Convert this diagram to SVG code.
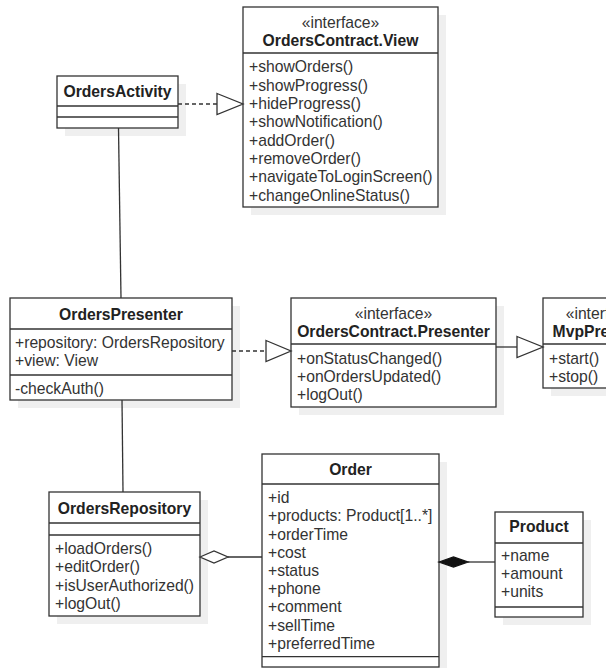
<svg xmlns="http://www.w3.org/2000/svg" width="606" height="668" viewBox="0 0 606 668">
<style>
.bg{fill:#ffffff}
.sh{fill:#efefef}
.box{fill:#ffffff;stroke:#333333;stroke-width:1.3}
.sep{stroke:#333333;stroke-width:1.3;fill:none}
.t{font-family:"Liberation Sans",Arial,Helvetica,sans-serif;font-size:15.7px;fill:#333333}
.b{font-weight:bold;fill:#222222}
.c{text-anchor:middle}
.ln{stroke:#333333;stroke-width:1.3;fill:none}
.dash{stroke-dasharray:4 3}
.open{fill:#ffffff;stroke:#333333;stroke-width:1.3}
.fill{fill:#111111;stroke:#111111;stroke-width:1.3}
</style>
<rect class="bg" x="0" y="0" width="606" height="668"/>

<g id="OrdersContractView">
  <rect class="sh" x="251" y="15" width="195" height="200"/>
  <rect class="box" x="243" y="7" width="195" height="200"/>
  <line class="sep" x1="243" y1="53" x2="438" y2="53"/>
  <text class="t c" x="340.5" y="28.2">«interface»</text>
  <text class="t b c" x="340.5" y="45.5">OrdersContract.View</text>
  <text class="t" x="249" y="72.2">+showOrders()</text>
  <text class="t" x="249" y="90.5">+showProgress()</text>
  <text class="t" x="249" y="108.9">+hideProgress()</text>
  <text class="t" x="249" y="127.2">+showNotification()</text>
  <text class="t" x="249" y="145.5">+addOrder()</text>
  <text class="t" x="249" y="163.8">+removeOrder()</text>
  <text class="t" x="249" y="182.2">+navigateToLoginScreen()</text>
  <text class="t" x="249" y="200.5">+changeOnlineStatus()</text>
</g>

<g id="OrdersActivity">
  <rect class="sh" x="65" y="84" width="121" height="52"/>
  <rect class="box" x="57" y="76" width="121" height="52"/>
  <line class="sep" x1="57" y1="106" x2="178" y2="106"/>
  <line class="sep" x1="57" y1="117" x2="178" y2="117"/>
  <text class="t b c" x="117.5" y="96.5">OrdersActivity</text>
</g>

<g id="OrdersPresenter">
  <rect class="sh" x="18" y="306" width="222" height="102"/>
  <rect class="box" x="10" y="298" width="222" height="102"/>
  <line class="sep" x1="10" y1="329" x2="232" y2="329"/>
  <line class="sep" x1="10" y1="375" x2="232" y2="375"/>
  <text class="t b c" x="121" y="319.5">OrdersPresenter</text>
  <text class="t" x="15" y="347.8">+repository: OrdersRepository</text>
  <text class="t" x="15" y="366.2">+view: View</text>
  <text class="t" x="15" y="393.8">-checkAuth()</text>
</g>

<g id="OrdersContractPresenter">
  <rect class="sh" x="299" y="306" width="205" height="109"/>
  <rect class="box" x="291" y="298" width="205" height="109"/>
  <line class="sep" x1="291" y1="344" x2="496" y2="344"/>
  <text class="t c" x="393.5" y="319.2">«interface»</text>
  <text class="t b c" x="393.5" y="336.5">OrdersContract.Presenter</text>
  <text class="t" x="297" y="363.5">+onStatusChanged()</text>
  <text class="t" x="297" y="381.8">+onOrdersUpdated()</text>
  <text class="t" x="297" y="400.1">+logOut()</text>
</g>

<g id="MvpPresenter">
  <rect class="sh" x="551" y="306" width="123" height="90"/>
  <rect class="box" x="543" y="298" width="123" height="90"/>
  <line class="sep" x1="543" y1="344" x2="666" y2="344"/>
  <text class="t c" x="604.5" y="319.2">«interface»</text>
  <text class="t b c" x="604.5" y="336.5">MvpPresenter</text>
  <text class="t" x="549" y="363.5">+start()</text>
  <text class="t" x="549" y="381.8">+stop()</text>
</g>

<g id="OrdersRepository">
  <rect class="sh" x="57" y="500" width="151" height="124"/>
  <rect class="box" x="49" y="492" width="151" height="124"/>
  <line class="sep" x1="49" y1="523" x2="200" y2="523"/>
  <line class="sep" x1="49" y1="535" x2="200" y2="535"/>
  <text class="t b c" x="124.5" y="513.8">OrdersRepository</text>
  <text class="t" x="55" y="553.8">+loadOrders()</text>
  <text class="t" x="55" y="572.2">+editOrder()</text>
  <text class="t" x="55" y="590.5">+isUserAuthorized()</text>
  <text class="t" x="55" y="608.8">+logOut()</text>
</g>

<g id="Order">
  <rect class="sh" x="270" y="462" width="177" height="213"/>
  <rect class="box" x="262" y="454" width="177" height="213"/>
  <line class="sep" x1="262" y1="484" x2="439" y2="484"/>
  <line class="sep" x1="262" y1="656.7" x2="439" y2="656.7"/>
  <text class="t b c" x="350.5" y="474.5">Order</text>
  <text class="t" x="268" y="503.2">+id</text>
  <text class="t" x="268" y="521.4">+products: Product[1..*]</text>
  <text class="t" x="268" y="539.6">+orderTime</text>
  <text class="t" x="268" y="557.8">+cost</text>
  <text class="t" x="268" y="576">+status</text>
  <text class="t" x="268" y="594.2">+phone</text>
  <text class="t" x="268" y="612.4">+comment</text>
  <text class="t" x="268" y="630.6">+sellTime</text>
  <text class="t" x="268" y="648.8">+preferredTime</text>
</g>

<g id="Product">
  <rect class="sh" x="503" y="520" width="88" height="105"/>
  <rect class="box" x="495" y="512" width="88" height="105"/>
  <line class="sep" x1="495" y1="543" x2="583" y2="543"/>
  <line class="sep" x1="495" y1="607" x2="583" y2="607"/>
  <text class="t b c" x="539" y="532.2">Product</text>
  <text class="t" x="501" y="560.5">+name</text>
  <text class="t" x="501" y="578.8">+amount</text>
  <text class="t" x="501" y="597.2">+units</text>
</g>

<g id="connectors">
  <line class="ln" x1="118.5" y1="128" x2="121" y2="298"/>
  <line class="ln" x1="122" y1="400" x2="123" y2="492"/>
  <line class="ln dash" x1="178" y1="104" x2="217" y2="104"/>
  <polygon class="open" points="217,93.5 243,104 217,114.5"/>
  <line class="ln dash" x1="232" y1="351" x2="266" y2="351"/>
  <polygon class="open" points="266,340.5 291,351 266,361.5"/>
  <line class="ln" x1="496" y1="347" x2="517" y2="347"/>
  <polygon class="open" points="517,336.5 543,347 517,357.5"/>
  <line class="ln" x1="228" y1="557" x2="262" y2="557"/>
  <polygon class="open" points="200,557 214,551 228,557 214,563"/>
  <line class="ln" x1="468" y1="562" x2="495" y2="562"/>
  <polygon class="fill" points="439,562 453.5,557 468,562 453.5,567"/>
</g>
</svg>
